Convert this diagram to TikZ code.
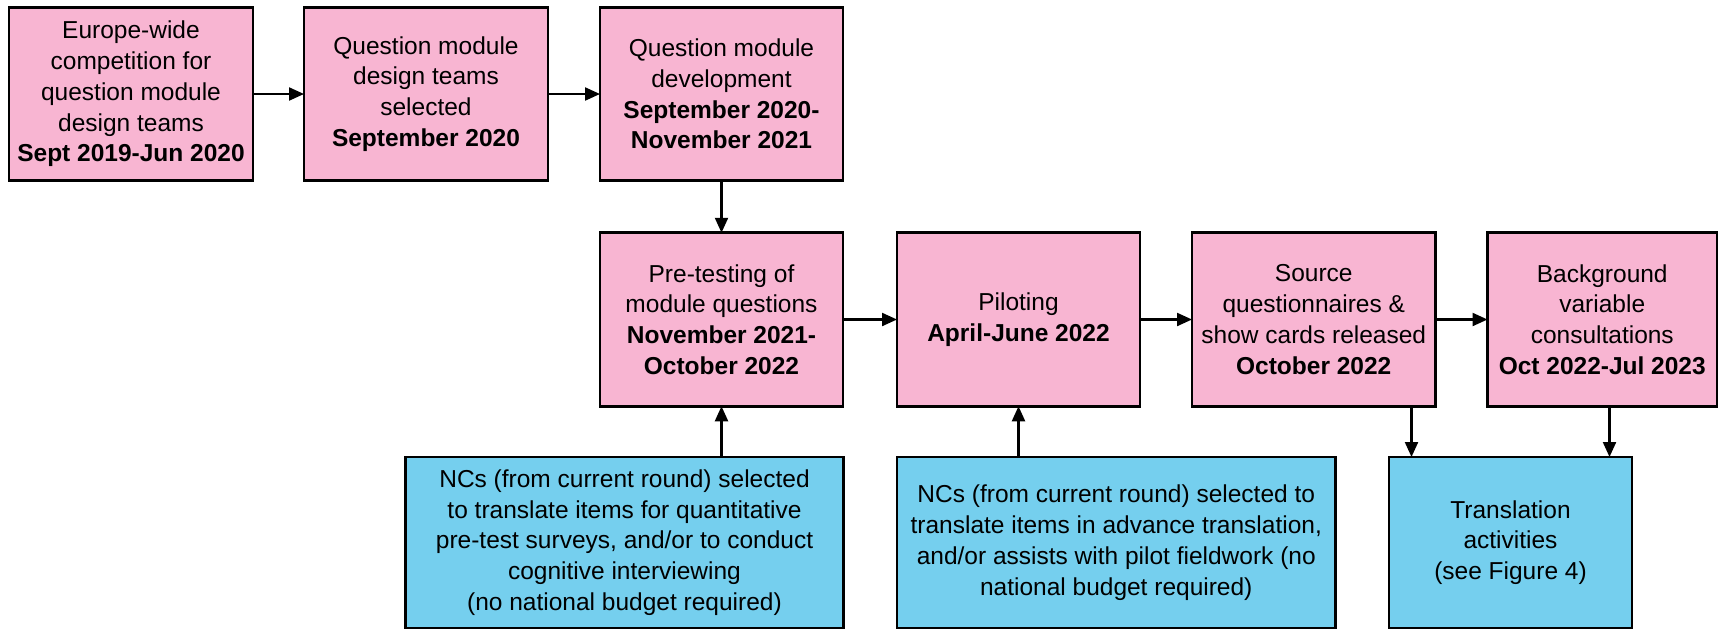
\documentclass[tikz,border=0pt]{standalone}
\usepackage{fontspec}
\setmainfont{Liberation Sans}
\usetikzlibrary{arrows.meta}
\definecolor{boxpink}{RGB}{248,181,210}
\definecolor{boxblue}{RGB}{117,207,238}
\tikzset{
  base/.style={draw=black, line width=2.6pt, inner sep=0pt, outer sep=0pt, align=center,
    font=\fontsize{24.5}{30.8}\selectfont, text=black},
  pinkbox/.style={base, fill=boxpink, minimum height=173.5pt},
  bluebox/.style={base, fill=boxblue, minimum height=171pt},
  arr/.style={line width=2.2pt, -{Triangle[length=15pt,width=13pt]}}
}
\begin{document}
\begin{tikzpicture}[x=1pt,y=-1pt]
\useasboundingbox (0,0) rectangle (1719,630);
\node[pinkbox, minimum width=244pt] (b1) at (131,94) {Europe-wide\\competition for\\question module\\design teams\\\textbf{Sept 2019-Jun 2020}};
\node[pinkbox, minimum width=244pt] (b2) at (426,94) {Question module\\design teams\\selected\\\textbf{September 2020}};
\node[pinkbox, minimum width=243pt] (b3) at (721.5,94) {Question module\\development\\\textbf{September 2020-}\\\textbf{November 2021}};
\node[pinkbox, minimum width=243pt] (b4) at (721.5,319.5) {Pre-testing of\\module questions\\\textbf{November 2021-}\\\textbf{October 2022}};
\node[pinkbox, minimum width=243pt] (b5) at (1018.5,319.5) {Piloting\\\textbf{April-June 2022}};
\node[pinkbox, minimum width=243.5pt] (b6) at (1313.75,319.5) {Source\\questionnaires \&\\show cards released\\\textbf{October 2022}};
\node[pinkbox, minimum width=229.5pt] (b7) at (1602.25,319.5) {Background\\variable\\consultations\\\textbf{Oct 2022-Jul 2023}};
\node[bluebox, minimum width=438pt] (c1) at (624.5,542.5) {NCs (from current round) selected\\to translate items for quantitative\\pre-test surveys, and/or to conduct\\cognitive interviewing\\(no national budget required)};
\node[bluebox, minimum width=438.5pt] (c2) at (1116.25,542.5) {NCs (from current round) selected to\\translate items in advance translation,\\and/or assists with pilot fieldwork (no\\national budget required)};
\node[bluebox, minimum width=243pt] (c3) at (1510.5,542.5) {Translation\\activities\\(see Figure 4)};
\coordinate (t1) at ([xshift=22.5pt]c3.north west);
\coordinate (t2) at ([xshift=-22.5pt]c3.north east);
\draw[arr] (b1) -- (b2);
\draw[arr] (b2) -- (b3);
\draw[arr] (b3) -- (b4);
\draw[arr] (b4) -- (b5);
\draw[arr] (b5) -- (b6);
\draw[arr] (b6) -- (b7);
\draw[arr] (c1.north -| b4.south) -- (b4.south);
\draw[arr] (c2.north -| b5.south) -- (b5.south);
\draw[arr] (b6.south -| t1) -- (t1);
\draw[arr] (b7.south -| t2) -- (t2);
\end{tikzpicture}
\end{document}
